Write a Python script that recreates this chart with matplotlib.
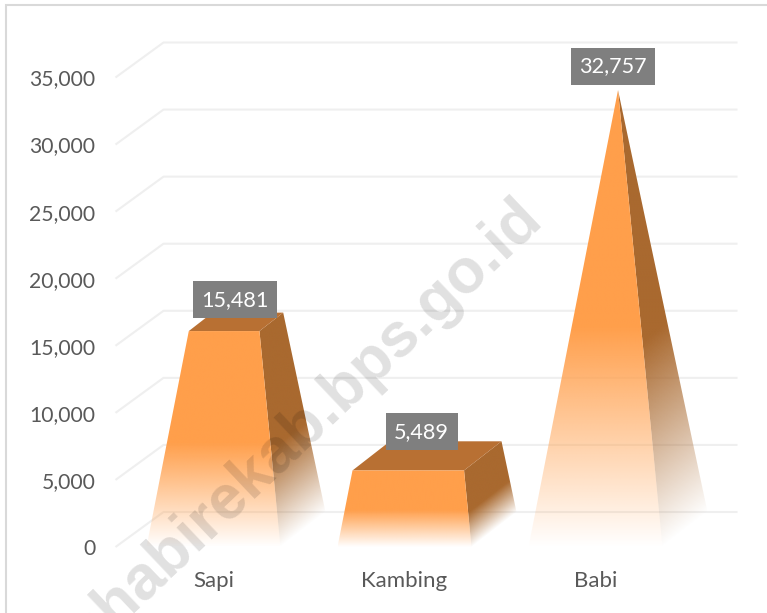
import numpy as np
import matplotlib
matplotlib.use("Agg")
import matplotlib.pyplot as plt
from matplotlib.patches import Polygon, Rectangle
from matplotlib.colors import to_rgb

categories = ["Sapi", "Kambing", "Babi"]
values = [15481, 5489, 32757]
y_ticks = [0, 5000, 10000, 15000, 20000, 25000, 30000, 35000]
watermark = "nhabirekab.bps.go.id"

W, H = 767, 613
plt.rcParams['font.family'] = ['Lato', 'DejaVu Sans']
fig = plt.figure(figsize=(W/100, H/100), dpi=100, facecolor='white')
L, R, T, B = 115.5, 689.5, 77.5, 547.0
ax = fig.add_axes([L/W, 1-B/H, (R-L)/W, (B-T)/H])
ax.set_xlim(-0.513, 2.492)
ax.set_ylim(0, 35000)
ax.patch.set_alpha(0)
for s in ax.spines.values():
    s.set_visible(False)
sx = (R-L)/(2.492+0.513)      # px per category
sy = (B-T)/35000               # px per value

# frame
fig.add_artist(Rectangle((5.5/W, -0.1), 1.2, 1.1-4.8/H, transform=fig.transFigure,
                         fill=False, ec='#D9D9D9', lw=1.5))

# back wall gridlines
wall_dx, wall_dy = 48/sx, 35/sy
x0, x1 = ax.get_xlim()
for v in y_ticks:
    ax.plot([x0, x0+wall_dx, x1+wall_dx], [v, v+wall_dy, v+wall_dy],
            color='#EFEFEF', lw=1.5, clip_on=False, zorder=1, solid_capstyle='butt')

ax.set_xticks(range(3), categories)
ax.set_yticks(y_ticks, [f"{v:,}" for v in y_ticks])
ax.tick_params(axis='y', length=0, labelsize=15.2, labelcolor='#595959', pad=14.5)
ax.tick_params(axis='x', length=0, labelsize=16, labelcolor='#595959', pad=17)

# pyramid geometry
half_w = 67/sx
depth_dx, depth_dy = 45/sx, 35/sy
apex = max(values)
FRONT = '#FF9F4B'; SIDE = '#A9692F'; TOP = '#B87033'
label_nudge_px = [(1.5, -2), (-2.5, 0), (-2, 0)]

def corner(cx, h, fx, fz):
    """fx in -1..1 (left-right), fz in 0..1 (front-back), h value height"""
    s = 1 - h/apex
    zc = 0.5 + (fz-0.5)*s
    return (cx + fx*half_w*s + zc*depth_dx, h + zc*depth_dy)

def grad_face(poly, color, alpha_fn, zorder):
    pts = np.array(poly)
    xs = np.linspace(pts[:,0].min(), pts[:,0].max(), 240)
    ys = np.linspace(pts[:,1].min(), pts[:,1].max(), 500)
    X, Y = np.meshgrid(xs, ys)
    img = np.ones(X.shape+(4,))
    img[...,:3] = to_rgb(color)
    img[...,3] = alpha_fn(X, Y)
    im = ax.imshow(img, extent=(xs[0], xs[-1], ys[0], ys[-1]), origin='lower',
                   aspect='auto', zorder=zorder, interpolation='bilinear')
    im.set_clip_box(fig.bbox)
    im.set_clip_path(Polygon(poly, closed=True, transform=ax.transData))

for i, v in enumerate(values):
    fl0, fr0 = corner(i, 0, -1, 0), corner(i, 0, 1, 0)
    br0 = corner(i, 0, 1, 1)
    fl1, fr1 = corner(i, v, -1, 0), corner(i, v, 1, 0)
    br1, bl1 = corner(i, v, 1, 1), corner(i, v, -1, 1)
    ramp = 0.5*v
    # side face: fade runs parallel to its sloping base edge
    def side_alpha(X, Y, a=fr0, b=br0):
        base = a[1] + (X-a[0])/(b[0]-a[0])*(b[1]-a[1])
        return np.clip((Y-base)/ramp, 0, 1)
    grad_face([fr0, br0, br1, fr1], SIDE, side_alpha, 3)
    # top face
    if v < apex:
        ax.add_patch(Polygon([fl1, fr1, br1, bl1], closed=True, fc=TOP, ec='none', zorder=3.5, clip_on=False))
    # front face
    grad_face([fl0, fr0, fr1, fl1], FRONT, lambda X, Y: np.clip(Y/ramp, 0, 1), 4)
    # data label
    cx, cy = corner(i, v, 0, 0.5)
    ndx, ndy = label_nudge_px[i]
    ax.annotate(f"{v:,}", xy=(cx, cy), xytext=((-2.8+ndx)*0.72, (24+ndy)*0.72), textcoords='offset points',
                ha='center', va='center', color='white', fontsize=15.6, zorder=6,
                bbox=dict(boxstyle='square,pad=0.39', fc='#7F7F7F', ec='none'))

ax.set_xlim(x0, x1); ax.set_ylim(0, 35000)

# watermark
fig.text(533/W, 1-209/H, watermark,
         rotation=43.5, rotation_mode='anchor', ha='right', va='center',
         fontsize=45, fontweight='bold', family=['Liberation Sans'], color='black', alpha=0.12, zorder=10)

fig.savefig('out.png', dpi=100)
